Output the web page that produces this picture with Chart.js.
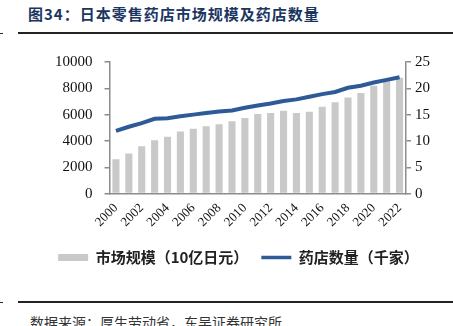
<!DOCTYPE html>
<html>
<head>
<meta charset="utf-8">
<script src="https://cdn.jsdelivr.net/npm/chart.js@4"></script>
<style>
  html, body { margin: 0; padding: 0; background: #fff; }
  #wrap { position: relative; width: 453px; height: 326px; overflow: hidden; }
  #titulo { position: absolute; left: 28px; top: 3px; font: bold 15px "Noto Sans CJK SC"; letter-spacing: 1px; color: #1B365F; white-space: nowrap; }
  .regla { position: absolute; left: 18px; width: 435px; height: 0; border-top: 2px solid #222; }
  .marca { position: absolute; left: 0; width: 3px; height: 0; border-top: 1px solid #333; }
  #fuente { position: absolute; left: 30px; top: 312px; font: 14px "Noto Sans CJK SC"; color: #333; white-space: nowrap; }
  canvas { position: absolute; left: 0; top: 0; }
</style>
</head>
<body>
<div id="wrap">
  <div id="titulo">图34：日本零售药店市场规模及药店数量</div>
  <div class="marca" style="top:33px"></div>
  <div class="regla" style="top:32px"></div>
  <div class="marca" style="top:302px"></div>
  <div class="regla" style="top:301px"></div>
  <div id="fuente">数据来源：厚生劳动省，东吴证券研究所</div>
  <canvas id="grafico" width="453" height="326"></canvas>
</div>
<script>
// Datos
var anios = ["2000","2001","2002","2003","2004","2005","2006","2007","2008","2009","2010","2011",
             "2012","2013","2014","2015","2016","2017","2018","2019","2020","2021","2022"];
// Tamaño de mercado (10亿日元)
var mercado = [2600, 3050, 3600, 4050, 4325, 4725, 4925, 5125, 5275, 5500, 5750, 6050,
               6125, 6300, 6125, 6225, 6600, 6950, 7300, 7650, 8200, 8550, 8800];
// Número de farmacias (千家)
var farmacias = [11.9, 12.7, 13.4, 14.2, 14.3, 14.7, 15.0, 15.3, 15.6, 15.8, 16.3, 16.75,
                 17.1, 17.6, 17.9, 18.4, 18.9, 19.3, 20.1, 20.5, 21.1, 21.6, 22.1];
var ticksIzq = [0, 2000, 4000, 6000, 8000, 10000];
var ticksDer = [0, 5, 10, 15, 20, 25];

var colorBarra = "#C9C9C9";
var colorLinea = "#2E5A98";
var colorEje = "#8C8C8C";
var fuenteEje = { family: "'Liberation Serif'", size: 15 };

var ctx = document.getElementById("grafico").getContext("2d");

new Chart(ctx, {
  type: "bar",
  data: {
    labels: anios,
    datasets: [
      {
        type: "line",
        label: "药店数量（千家）",
        data: farmacias,
        yAxisID: "y2",
        borderColor: colorLinea,
        backgroundColor: colorLinea,
        borderWidth: 4,
        pointRadius: 0,
        tension: 0,
        order: 0
      },
      {
        label: "市场规模（10亿日元）",
        data: mercado,
        yAxisID: "y",
        backgroundColor: colorBarra,
        borderWidth: 0,
        barPercentage: 0.55,
        categoryPercentage: 1,
        order: 1
      }
    ]
  },
  options: {
    responsive: false,
    animation: false,
    layout: { padding: { left: 43, right: 19, top: 62, bottom: 51 } },
    plugins: {
      tooltip: { enabled: false },
      legend: {
        position: "bottom",
        reverse: true,
        labels: {
          color: "#222",
          font: { family: "'Noto Sans CJK SC'", size: 15, weight: "bold" },
          usePointStyle: true,
          pointStyleWidth: 30,
          boxHeight: 7,
          padding: 13,
          generateLabels: function (chart) {
            return chart.data.datasets.map(function (ds, i) {
              var esLinea = ds.type === "line";
              return {
                text: ds.label,
                datasetIndex: i,
                fillStyle: esLinea ? colorLinea : colorBarra,
                strokeStyle: esLinea ? colorLinea : colorBarra,
                lineWidth: esLinea ? 3.5 : 0,
                pointStyle: esLinea ? "line" : "rect",
                fontColor: "#222"
              };
            });
          }
        }
      }
    },
    scales: {
      x: {
        offset: true,
        grid: { display: false, drawTicks: false },
        border: { color: colorEje, width: 1.5 },
        ticks: {
          color: "#111",
          font: { family: "'Liberation Serif'", size: 13 },
          autoSkip: false,
          minRotation: 45,
          maxRotation: 45,
          padding: 7,
          callback: function (v, i) { return i % 2 === 0 ? anios[i] : ""; }
        }
      },
      y: {
        position: "left",
        min: 0,
        max: 10000,
        afterBuildTicks: function (eje) { eje.ticks = ticksIzq.map(function (v) { return { value: v }; }); },
        grid: { drawOnChartArea: false, color: colorEje, tickLength: 5, lineWidth: 1.5 },
        border: { color: colorEje, width: 1.5 },
        ticks: { color: "#111", font: fuenteEje, padding: 12, callback: function (v) { return String(v); } }
      },
      y2: {
        position: "right",
        min: 0,
        max: 25,
        afterBuildTicks: function (eje) { eje.ticks = ticksDer.map(function (v) { return { value: v }; }); },
        grid: { drawOnChartArea: false, color: colorEje, tickLength: 5, lineWidth: 1.5 },
        border: { color: colorEje, width: 1.5 },
        ticks: { color: "#111", font: fuenteEje, padding: 4, callback: function (v) { return String(v); } }
      }
    }
  }
});
</script>
</body>
</html>
